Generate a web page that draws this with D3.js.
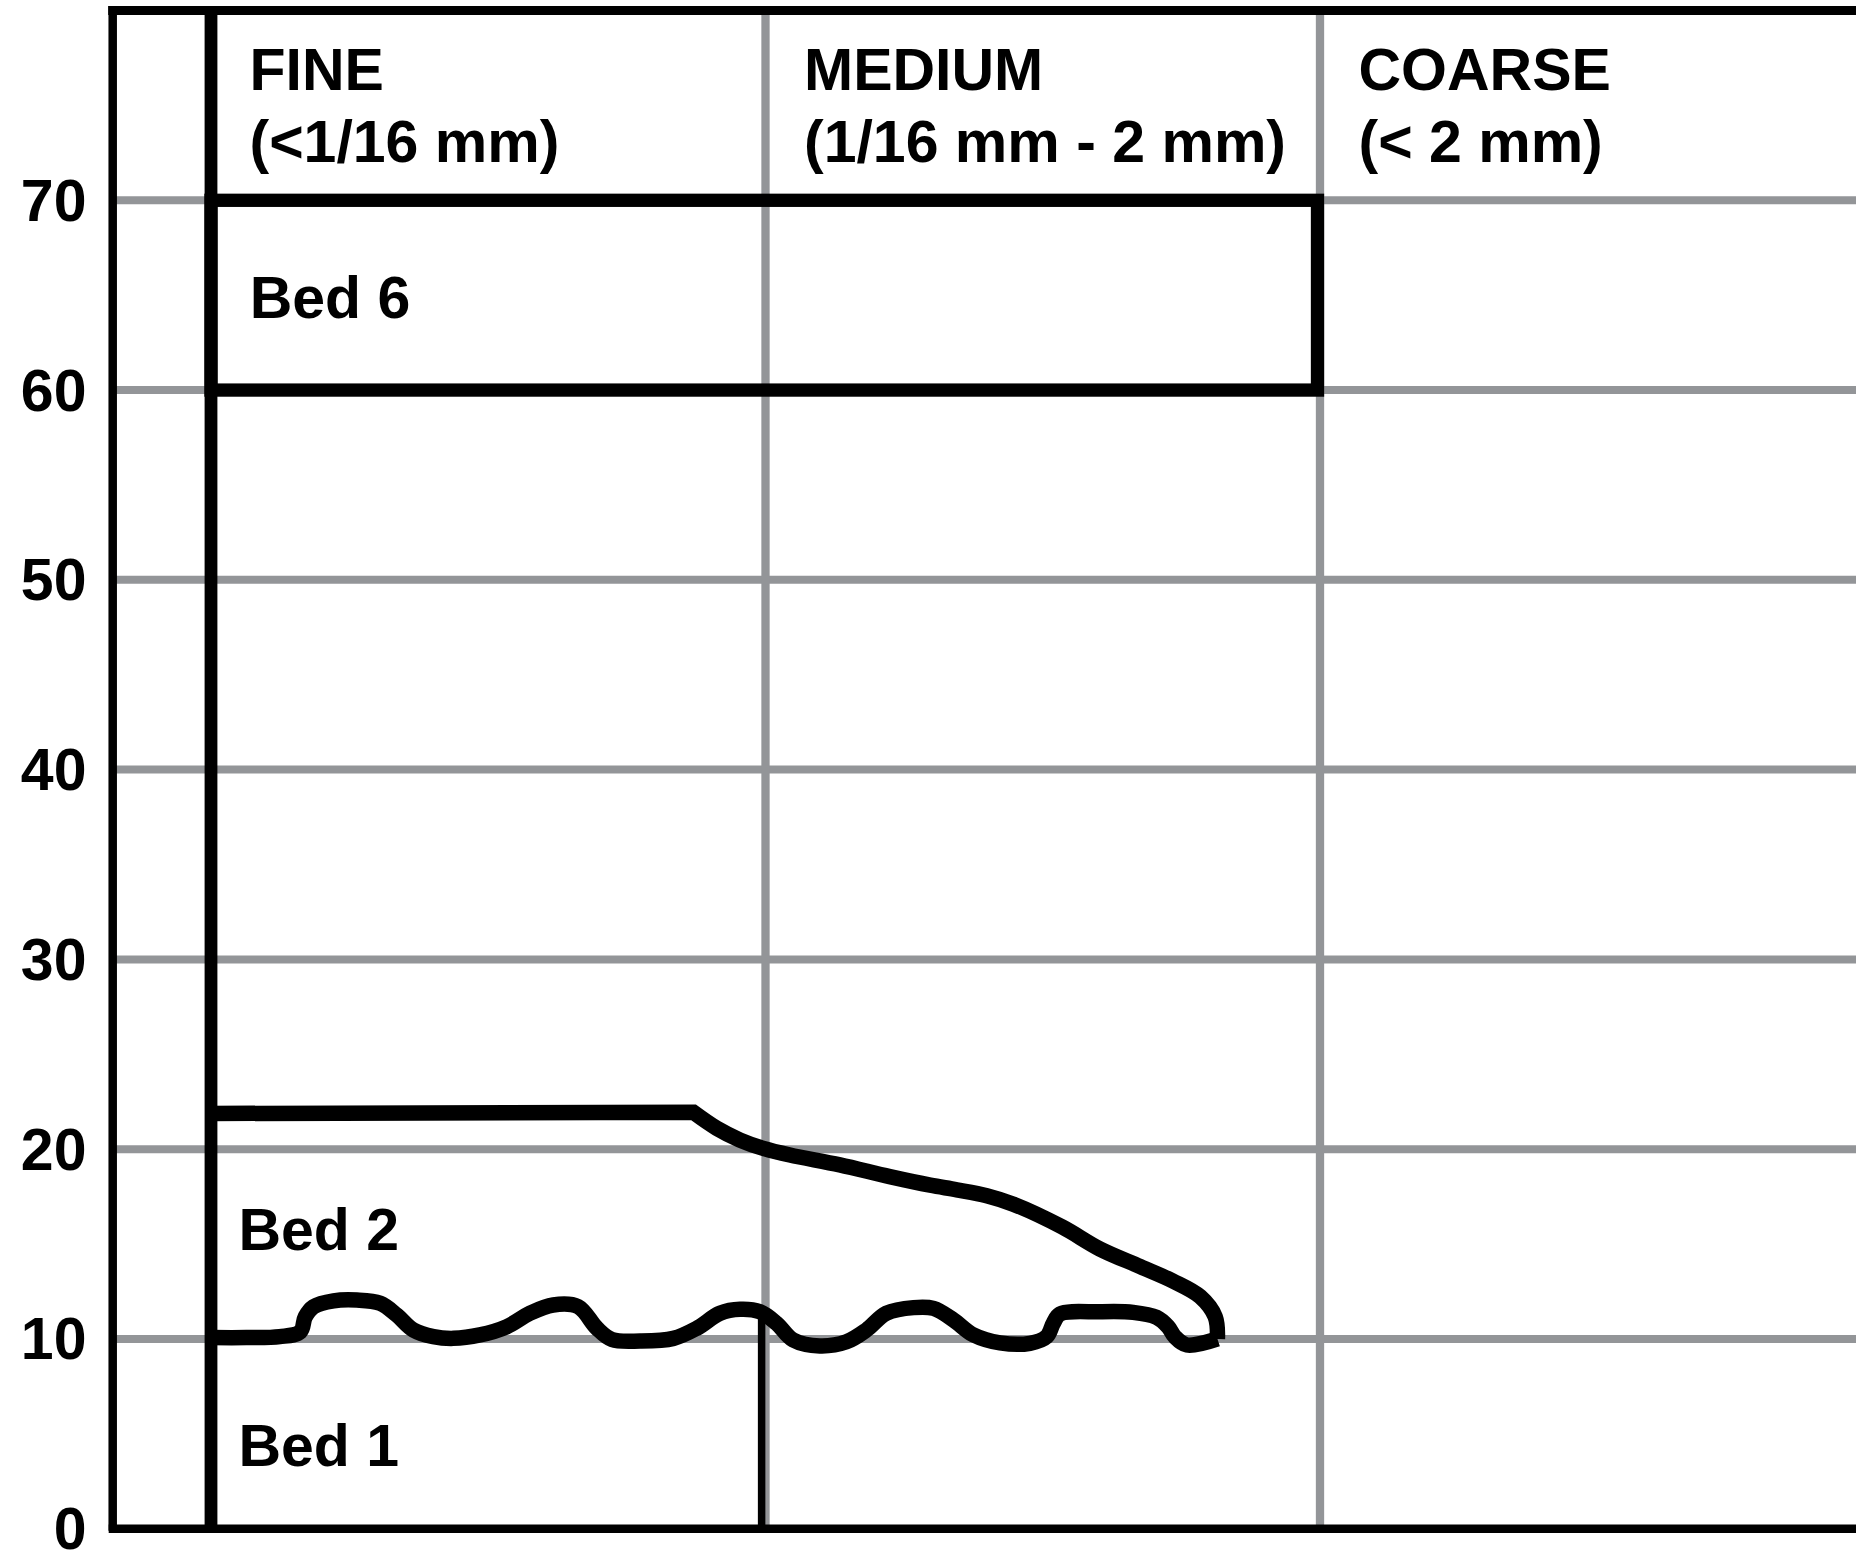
<!DOCTYPE html>
<html>
<head>
<meta charset="utf-8">
<script src="https://cdn.jsdelivr.net/npm/d3@7"></script>
<style>
  html, body { margin: 0; padding: 0; background: #fff; }
  svg { display: block; }
  text { font-family: "Liberation Sans", Arial, Helvetica, sans-serif; font-weight: bold; fill: #000; }
</style>
</head>
<body>
<svg id="chart" width="1856" height="1553"></svg>
<script>
// ---------- data ----------
const yTicks = [0, 10, 20, 30, 40, 50, 60, 70];
const categories = ["FINE", "MEDIUM", "COARSE"];
const categoryRanges = ["(<1/16 mm)", "(1/16 mm - 2 mm)", "(< 2 mm)"];
const categoryBounds = [0, 1, 2];           // left edge of each grain-size column

const bedNames = ["Bed 1", "Bed 2", "Bed 6"];
const bedLabelHeights = [4.34, 15.74, 64.84]; // thickness (cm) at which each label sits
const bed6 = { grainMax: 2, bottom: 60, top: 70 };
const bed1GrainMax = 0.993;
const bed1Top = 11.3;

// upper surface of Bed 2 (grain-size index, thickness): flat top, then sloping curve
const bed2Flat = [[0, 21.88], [0.870, 21.94]];
const bed2Slope = [
  [0.870, 21.94], [0.912, 21.10], [0.954, 20.48], [0.996, 20.04],
  [1.044, 19.69], [1.134, 19.17], [1.224, 18.55], [1.297, 18.10], [1.345, 17.86],
  [1.399, 17.55], [1.447, 17.10], [1.535, 15.90], [1.603, 14.74],
  [1.676, 13.81], [1.735, 13.05], [1.784, 12.23], [1.811, 11.17], [1.815, 10.0]
];
// wavy contact between Bed 1 and Bed 2 (left to right)
const contact = [
  [0, 10.07], [0.064, 10.07], [0.124, 10.12], [0.161, 10.38], [0.170, 11.17],
  [0.185, 11.70], [0.221, 12.01], [0.263, 12.05], [0.305, 11.88], [0.335, 11.26],
  [0.365, 10.47], [0.401, 10.12], [0.437, 10.03], [0.485, 10.21], [0.533, 10.64],
  [0.575, 11.35], [0.617, 11.79], [0.662, 11.70], [0.696, 10.56], [0.723, 9.97],
  [0.774, 9.89], [0.834, 10.03], [0.876, 10.56], [0.918, 11.35], [0.954, 11.56],
  [0.990, 11.43], [1.020, 10.82], [1.050, 9.94], [1.098, 9.63], [1.146, 9.85],
  [1.182, 10.47], [1.218, 11.35], [1.267, 11.65], [1.303, 11.61], [1.339, 11.00],
  [1.375, 10.21], [1.423, 9.79], [1.477, 9.77], [1.507, 10.12], [1.519, 10.82],
  [1.531, 11.31], [1.603, 11.43], [1.663, 11.40], [1.705, 11.14], [1.726, 10.64],
  [1.738, 10.12], [1.760, 9.68], [1.815, 10.0]
];

// ---------- layout ----------
const W = 1856, H = 1553;
const frameLeft = 112.7, frameTop = 10.5;
const GRAY = "#939598";
const FONT = 59;

const x = d3.scaleLinear().domain([0, 2]).range([211, 1320]);
const y = d3.scaleLinear().domain([0, 70]).range([1528.7, 200.3]);

const svg = d3.select("#chart");

// horizontal gridlines
svg.append("g").selectAll("line").data(yTicks.filter(d => d > 0)).join("line")
  .attr("x1", frameLeft).attr("x2", W)
  .attr("y1", d => y(d)).attr("y2", d => y(d))
  .attr("stroke", GRAY).attr("stroke-width", 8);

// vertical gridlines (column boundaries)
svg.append("g").selectAll("line").data(categoryBounds.slice(1)).join("line")
  .attr("x1", d => x(d)).attr("x2", d => x(d))
  .attr("y1", frameTop).attr("y2", y(0))
  .attr("stroke", GRAY).attr("stroke-width", 8.3);

// frame
svg.append("line").attr("x1", frameLeft - 4.5).attr("x2", W).attr("y1", frameTop).attr("y2", frameTop)
  .attr("stroke", "#000").attr("stroke-width", 9);
svg.append("line").attr("x1", frameLeft).attr("x2", frameLeft).attr("y1", frameTop - 4.5).attr("y2", y(0) + 2)
  .attr("stroke", "#000").attr("stroke-width", 8.5);
svg.append("line").attr("x1", frameLeft - 4).attr("x2", W).attr("y1", y(0)).attr("y2", y(0))
  .attr("stroke", "#000").attr("stroke-width", 8.5);

// thick column line at grain-size 0
svg.append("line").attr("x1", x(0)).attr("x2", x(0)).attr("y1", frameTop).attr("y2", y(0))
  .attr("stroke", "#000").attr("stroke-width", 12.8);

// y axis labels
const yAxis = d3.axisLeft(y).tickValues(yTicks).tickSize(0).tickPadding(frameLeft - 86.5);
const ga = svg.append("g").attr("transform", `translate(${frameLeft},0)`).call(yAxis);
ga.select(".domain").remove();
ga.selectAll("text").attr("font-size", FONT).attr("font-family", null).attr("fill", "#000").attr("dy", "0.34em");

// Bed 6 box
svg.append("rect")
  .attr("x", x(0)).attr("y", y(bed6.top))
  .attr("width", x(bed6.grainMax) - x(0) - 2.5).attr("height", y(bed6.bottom) - y(bed6.top))
  .attr("fill", "none").attr("stroke", "#000").attr("stroke-width", 13.3);

// Bed 1 right edge
svg.append("line").attr("x1", x(bed1GrainMax)).attr("x2", x(bed1GrainMax))
  .attr("y1", y(0)).attr("y2", y(bed1Top))
  .attr("stroke", "#000").attr("stroke-width", 7.5);

// Bed 2 outline: upper surface (straight flat part + smooth slope) and wavy basal contact
const straight = d3.line().x(d => x(d[0])).y(d => y(d[1]));
const smooth = d3.line().x(d => x(d[0])).y(d => y(d[1])).curve(d3.curveCatmullRom.alpha(0.5));
const topPath = straight(bed2Flat) + "L" + smooth(bed2Slope).slice(1);
svg.append("path").attr("d", topPath)
  .attr("fill", "none").attr("stroke", "#000").attr("stroke-width", 15.5)
  .attr("stroke-linejoin", "miter");
svg.append("path").attr("d", smooth(contact))
  .attr("fill", "none").attr("stroke", "#000").attr("stroke-width", 15.5);

// column headers
const hdr = svg.append("g");
categories.forEach((c, i) => {
  const tx = x(categoryBounds[i]) + 38.5;
  const t = hdr.append("text").attr("font-size", FONT);
  t.append("tspan").attr("x", tx).attr("y", 90).text(c);
  t.append("tspan").attr("x", tx).attr("y", 162).text(categoryRanges[i]);
});

// bed labels
svg.append("g").selectAll("text").data(bedNames).join("text")
  .attr("x", (d, i) => x(0) + (i === 2 ? 38.7 : 27.4))
  .attr("y", (d, i) => y(bedLabelHeights[i]))
  .attr("dy", "0.34em")
  .attr("font-size", FONT)
  .text(d => d);
</script>
</body>
</html>
